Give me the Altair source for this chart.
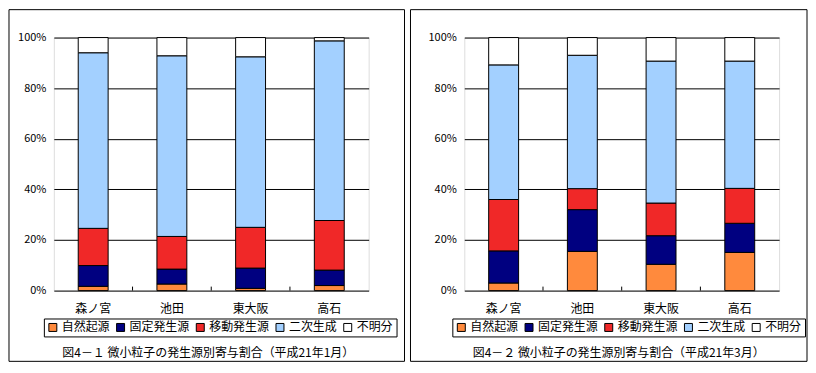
import altair as alt
import pandas as pd

sites = ["森ノ宮", "池田", "東大阪", "高石"]
sources = ["自然起源", "固定発生源", "移動発生源", "二次生成", "不明分"]
colors = ["#FF8A3D", "#000080", "#F02828", "#A3D0FF", "#FFFFFF"]

# 平成21年1月
jan_natural = [1.7, 2.6, 0.9, 2.0]
jan_fixed = [8.2, 5.9, 8.0, 6.1]
jan_mobile = [14.7, 12.9, 16.1, 19.6]
jan_secondary = [69.4, 71.4, 67.4, 71.0]
jan_unknown = [6.0, 7.2, 7.6, 1.3]

# 平成21年3月
mar_natural = [3.0, 15.5, 10.4, 15.1]
mar_fixed = [12.7, 16.5, 11.3, 11.5]
mar_mobile = [20.3, 8.3, 12.9, 13.8]
mar_secondary = [53.2, 52.7, 56.1, 50.3]
mar_unknown = [10.8, 7.0, 9.3, 9.3]

captions = ["図4－１ 微小粒子の発生源別寄与割合（平成21年1月）",
            "図4－２ 微小粒子の発生源別寄与割合（平成21年3月）"]

FONT = "Noto Sans CJK JP"
W, H = 316, 254


def panel(series, caption, box_x, box_x2, legend_x):
    rows = []
    for k, (s, vals) in enumerate(zip(sources, series)):
        for site, v in zip(sites, vals):
            rows.append({"site": site, "source": s, "order": k, "value": v})
    df = pd.DataFrame(rows)

    xenc = alt.X("site:N", sort=sites,
                 scale=alt.Scale(paddingInner=0.62, paddingOuter=0.31),
                 axis=alt.Axis(title=None, labelAngle=0, ticks=False, domain=False,
                               labelPadding=13, labelFontSize=12, labelColor="black",
                               labelFont=FONT))
    yenc = alt.Y("value:Q", stack="zero",
                 scale=alt.Scale(domain=[0, 100], nice=False),
                 axis=alt.Axis(title=None, values=[0, 20, 40, 60, 80, 100],
                               labelExpr="datum.value + '%'", grid=True,
                               gridColor="black", gridWidth=1, gridOpacity=1,
                               ticks=False, domain=False, labelPadding=8,
                               labelFontSize=11, labelColor="black", labelFont=FONT))

    bars = alt.Chart(df).mark_bar(stroke="black", strokeWidth=1).encode(
        x=xenc, y=yenc,
        color=alt.Color("source:N",
                        scale=alt.Scale(domain=sources, range=colors),
                        legend=alt.Legend(title=None, orient="none",
                                          legendX=legend_x, legendY=282,
                                          direction="horizontal", columns=5,
                                          symbolType="square", symbolSize=64,
                                          symbolStrokeColor="black",
                                          symbolStrokeWidth=1,
                                          labelFontSize=12, labelFont=FONT,
                                          labelColor="black", labelOffset=3,
                                          columnPadding=4, strokeColor="black",
                                          padding=3, labelLimit=0)),
        order=alt.Order("order:Q"),
    )

    ticks = alt.Chart(pd.DataFrame({"site": sites[:3]})).mark_rule(
        color="black", xOffset=39.5).encode(
        x=alt.X("site:N", sort=sites),
        y=alt.value(H), y2=alt.value(H - 4))

    box = alt.Chart(alt.Data(values=[{}])).mark_rect(
        fill="transparent", stroke="black", strokeWidth=1).encode(
        x=alt.value(box_x), x2=alt.value(box_x2),
        y=alt.value(-28), y2=alt.value(325))

    cap = alt.Chart(alt.Data(values=[{}])).mark_text(
        text=caption, fontSize=12, font=FONT, color="black",
        align="center", baseline="middle").encode(
        x=alt.value(155), y=alt.value(317))

    return alt.layer(box, bars, ticks, cap).properties(width=W, height=H)


left = panel([jan_natural, jan_fixed, jan_mobile, jan_secondary, jan_unknown],
             captions[0], -45, 352, -10)
right = panel([mar_natural, mar_fixed, mar_mobile, mar_secondary, mar_unknown],
              captions[1], -54, 344, -12)

chart = alt.hconcat(left, right, spacing=4).resolve_scale(
    color="independent", x="independent", y="independent"
).properties(
    padding={"left": 0, "top": 0, "right": 0, "bottom": 0}
).configure_view(
    stroke="black", strokeWidth=1
).configure(
    font=FONT, background="white"
)

chart.save("out.html", embed_options={"renderer": "svg", "actions": False})
